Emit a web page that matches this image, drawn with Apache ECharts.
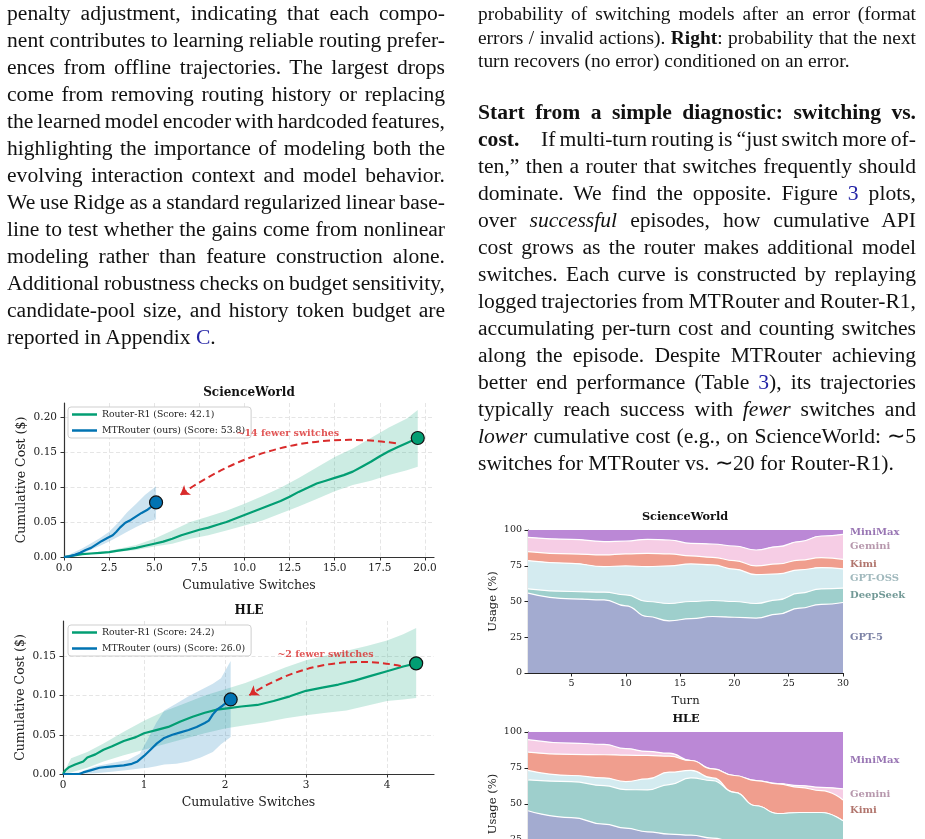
<!DOCTYPE html>
<html><head><meta charset="utf-8">
<script src="https://cdn.jsdelivr.net/npm/echarts@6/dist/echarts.min.js"></script>
<style>
html,body{margin:0;padding:0;background:#fff;width:925px;height:839px;overflow:hidden;}
#chart{position:absolute;left:0;top:0;width:925px;height:839px;z-index:1;}
.col{position:absolute;font-family:"Liberation Serif","Times New Roman",serif;color:#111;z-index:2;}
.col div{white-space:nowrap;text-align:left;}
.body{font-size:21.6px;line-height:27px;}
.cap{font-size:19.4px;line-height:23.5px;}
.lnk{color:#2424a6;}
</style></head>
<body>
<div id="chart"></div>

<div class="col body" style="left:7px;top:0px;width:438px">
<div class="j">penalty adjustment, indicating that each compo-</div>
<div class="j">nent contributes to learning reliable routing prefer-</div>
<div class="j">ences from offline trajectories. The largest drops</div>
<div class="j">come from removing routing history or replacing</div>
<div class="j">the learned model encoder with hardcoded features,</div>
<div class="j">highlighting the importance of modeling both the</div>
<div class="j">evolving interaction context and model behavior.</div>
<div class="j">We use Ridge as a standard regularized linear base-</div>
<div class="j">line to test whether the gains come from nonlinear</div>
<div class="j">modeling rather than feature construction alone.</div>
<div class="j">Additional robustness checks on budget sensitivity,</div>
<div class="j">candidate-pool size, and history token budget are</div>
<div class="l">reported in Appendix <span class="lnk">C</span>.</div>
</div>

<div class="col cap" style="left:478px;top:2.4px;width:438px">
<div class="j">probability of switching models after an error (format</div>
<div class="j">errors / invalid actions). <b>Right</b>: probability that the next</div>
<div class="l">turn recovers (no error) conditioned on an error.</div>
</div>

<div class="col body" style="left:478px;top:98.6px;width:438px">
<div class="j"><b>Start from a simple diagnostic: switching vs.</b></div>
<div class="j"><b>cost.</b>&emsp;If multi-turn routing is “just switch more of-</div>
<div class="j">ten,” then a router that switches frequently should</div>
<div class="j">dominate. We find the opposite. Figure <span class="lnk">3</span> plots,</div>
<div class="j">over <i>successful</i> episodes, how cumulative API</div>
<div class="j">cost grows as the router makes additional model</div>
<div class="j">switches. Each curve is constructed by replaying</div>
<div class="j">logged trajectories from MTRouter and Router-R1,</div>
<div class="j">accumulating per-turn cost and counting switches</div>
<div class="j">along the episode. Despite MTRouter achieving</div>
<div class="j">better end performance (Table <span class="lnk">3</span>), its trajectories</div>
<div class="j">typically reach success with <i>fewer</i> switches and</div>
<div class="j"><i>lower</i> cumulative cost (e.g., on ScienceWorld: ∼5</div>
<div class="l">switches for MTRouter vs. ∼20 for Router-R1).</div>
</div>

<script>
// ---------------- data ----------------
const swXTicks = [0, 2.5, 5, 7.5, 10, 12.5, 15, 17.5, 20];
const swYTicks = [0, 0.05, 0.10, 0.15, 0.20];
const hleXTicks = [0, 1, 2, 3, 4];
const hleYTicks = [0, 0.05, 0.10, 0.15];
const turnTicks = [5, 10, 15, 20, 25, 30];
const usageYTicks = [0, 25, 50, 75, 100];

const swR1Name = 'Router-R1 (Score: 42.1)';
const swMTName = 'MTRouter (ours) (Score: 53.8)';
const hleR1Name = 'Router-R1 (Score: 24.2)';
const hleMTName = 'MTRouter (ours) (Score: 26.0)';

// ScienceWorld cumulative cost
const swR1X = [0,0.5,1,1.5,2,2.5,3,3.5,4,4.5,5,5.5,6,6.5,7,7.5,8,8.5,9,9.5,10,10.5,11,11.5,12,12.5,13,13.5,14,14.5,15,15.5,16,16.5,17,17.5,18,18.5,19,19.6];
const swR1Y = [0,0.002,0.004,0.005,0.006,0.007,0.009,0.011,0.013,0.016,0.019,0.022,0.026,0.031,0.035,0.039,0.042,0.046,0.05,0.055,0.06,0.065,0.07,0.075,0.08,0.086,0.093,0.099,0.105,0.109,0.113,0.117,0.122,0.129,0.136,0.144,0.151,0.157,0.163,0.17];
const swR1BandX = [0,1,2.5,4,5,6,7,8,9,10,11,12,13,14,15,16,17,18,19,19.6];
const swR1Lo = [0,0.003,0.006,0.01,0.015,0.019,0.026,0.031,0.038,0.045,0.052,0.062,0.072,0.083,0.094,0.103,0.109,0.117,0.124,0.129];
const swR1Hi = [0,0.005,0.009,0.017,0.026,0.038,0.05,0.058,0.066,0.076,0.087,0.099,0.113,0.128,0.143,0.155,0.17,0.185,0.198,0.21];

const swMTX = [0,0.3,0.6,0.9,1.2,1.5,1.8,2.1,2.4,2.7,2.9,3.1,3.4,3.7,4.0,4.3,4.6,4.9,5.1];
const swMTY = [0,0.001,0.003,0.006,0.01,0.013,0.018,0.023,0.027,0.031,0.036,0.042,0.049,0.053,0.058,0.063,0.067,0.073,0.078];
const swMTBandX = [0,1,2,2.5,3,3.5,4,4.5,5.1];
const swMTLo = [0,0.005,0.016,0.022,0.029,0.036,0.043,0.049,0.054];
const swMTHi = [0,0.012,0.027,0.036,0.049,0.064,0.076,0.089,0.101];

// HLE cumulative cost
const hleR1X = [0,0.03,0.08,0.15,0.25,0.3,0.4,0.5,0.6,0.75,0.9,1.0,1.15,1.3,1.45,1.6,1.75,1.9,2.05,2.2,2.4,2.6,2.8,3.0,3.2,3.4,3.6,3.8,4.0,4.2,4.36];
const hleR1Y = [0,0.005,0.009,0.012,0.016,0.021,0.025,0.031,0.035,0.042,0.047,0.052,0.056,0.06,0.067,0.073,0.078,0.082,0.084,0.086,0.088,0.093,0.099,0.106,0.11,0.114,0.119,0.125,0.131,0.137,0.141];
const hleR1BandX = [0,0.1,0.3,0.5,0.75,1.0,1.25,1.5,1.75,2.0,2.25,2.5,2.75,3.0,3.25,3.5,3.75,4.0,4.2,4.36];
const hleR1Lo = [0,0.002,0.008,0.016,0.024,0.031,0.038,0.045,0.052,0.058,0.062,0.066,0.071,0.075,0.078,0.081,0.087,0.093,0.095,0.097];
const hleR1Hi = [0,0.02,0.028,0.039,0.054,0.068,0.08,0.09,0.1,0.108,0.116,0.126,0.136,0.145,0.151,0.157,0.163,0.17,0.178,0.186];

const hleMTX = [0,0.2,0.25,0.35,0.45,0.55,0.65,0.75,0.85,0.92,1.0,1.08,1.16,1.25,1.35,1.45,1.55,1.65,1.75,1.8,1.85,1.9,1.97,2.07];
const hleMTY = [0,0,0.002,0.005,0.008,0.009,0.01,0.011,0.013,0.016,0.023,0.031,0.039,0.046,0.05,0.053,0.056,0.06,0.065,0.068,0.076,0.082,0.087,0.095];
const hleMTBandX = [0,0.2,0.4,0.6,0.8,0.95,1.05,1.15,1.25,1.4,1.55,1.7,1.85,1.95,2.07];
const hleMTLo = [0,0,0.001,0.003,0.005,0.007,0.008,0.01,0.012,0.013,0.016,0.021,0.028,0.038,0.047];
const hleMTHi = [0,0.002,0.01,0.014,0.018,0.026,0.045,0.065,0.081,0.09,0.099,0.107,0.115,0.122,0.144];

// annotations (data coordinates)
const swArrow = [[18.39, 0.1624], [6.44, 0.0886]];
const hleArrow = [[4.17, 0.1377], [2.30, 0.1004]];
const swNotePos = [12.4, 0.177];
const hleNotePos = [3.24, 0.1525];
const swNoteText = '~14 fewer switches';
const hleNoteText = '~2 fewer switches';

// model usage per turn (%), stacked bottom -> top
const models = ['GPT-5', 'DeepSeek', 'GPT-OSS', 'Kimi', 'Gemini', 'MiniMax'];
const turns = [1, 5, 8, 10, 12, 14, 16, 18, 20, 22, 24, 26, 28, 30];
const swGPT5     = [55.8, 51.9, 51.2, 47.0, 39.5, 36.5, 38.0, 39.5, 39.0, 38.4, 41.2, 45.3, 48.0, 49.3];
const swDeepSeek = [3.0, 5.1, 5.3, 7.7, 10.5, 12.1, 12.0, 11.2, 11.0, 10.2, 10.0, 10.5, 10.8, 10.0];
const swGPTOSS   = [19.8, 19.7, 17.9, 20.2, 24.4, 26.3, 26.3, 24.9, 22.6, 20.2, 18.1, 16.3, 14.9, 13.5];
const swKimi     = [6.3, 6.6, 8.2, 8.4, 9.3, 8.4, 5.6, 5.3, 6.0, 6.1, 7.0, 6.9, 7.0, 6.7];
const swGemini   = [10.0, 10.2, 9.3, 9.0, 9.8, 9.7, 8.8, 9.3, 10.2, 11.1, 12.1, 12.9, 15.1, 17.5];
const swMiniMax  = [5.1, 6.5, 8.1, 7.7, 6.5, 7.0, 9.3, 9.8, 11.2, 14.0, 11.6, 8.1, 4.2, 3.0];

const hleGPT5     = [45.3, 40.6, 36.0, 33.2, 30.7, 29.1, 28.4, 26.3, 23.5, 20.0, 16.0, 12.0, 9.0, 6.5];
const hleDeepSeek = [21.5, 25.0, 26.8, 26.8, 29.1, 34.4, 39.7, 40.0, 34.6, 28.8, 27.4, 32.1, 35.1, 31.8];
const hleGPTOSS   = [6.5, 4.2, 5.3, 5.6, 7.6, 8.6, 5.2, 1.8, 0, 0, 0, 0, 0, 0];
const hleKimi     = [12.7, 14.6, 16.1, 18.3, 16.3, 11.1, 6.9, 6.3, 11.7, 17.5, 20.6, 17.5, 15.2, 14.5];
const hleGemini   = [8.7, 7.9, 7.2, 4.5, 2.8, 2.1, 0, 0, 0, 0, 0.2, 1.2, 2.3, 7.7];
const hleMiniMax  = [5.3, 7.7, 8.6, 11.6, 13.5, 14.7, 19.8, 25.6, 30.2, 33.7, 35.8, 37.2, 38.4, 39.5];

// ---------------- style ----------------
const FF = '"DejaVu Serif", serif';
const GREEN = '#029e73', BLUE = '#0173b2', RED = '#d92b2b';
const modelColors = ['#a3abd0', '#9ecfcc', '#d4ebf0', '#f09e8e', '#f6cde5', '#bb88d6'];
const modelLabelColors = ['#5c6490', '#4f807c', '#8aa7ad', '#9e5248', '#a57e98', '#7e52a0'];

const zip = (xs, ys) => xs.map((x, i) => [x, ys[i]]);

function costXAxis(gi, max, ticks, fmt) {
  return {
    type: 'value', gridIndex: gi, min: 0, max: max,
    axisLine: { show: true, onZero: false, lineStyle: { color: '#333', width: 1.2 } },
    axisTick: { show: true, length: 3.5, customValues: ticks, lineStyle: { color: '#333', width: 1 } },
    axisLabel: { customValues: ticks, formatter: fmt, fontFamily: FF, fontSize: 10.5, color: '#222', margin: 6 },
    splitLine: { show: true, lineStyle: { color: '#dedede', type: [4, 2.5], width: 0.8 } },
    name: 'Cumulative Switches', nameLocation: 'middle', nameGap: 22,
    nameTextStyle: { fontFamily: FF, fontSize: 12.5, color: '#222' }
  };
}
function costYAxis(gi, max, ticks) {
  return {
    type: 'value', gridIndex: gi, min: 0, max: max,
    axisLine: { show: true, onZero: false, lineStyle: { color: '#333', width: 1.2 } },
    axisTick: { show: true, length: 3.5, customValues: ticks, lineStyle: { color: '#333', width: 1 } },
    axisLabel: { customValues: ticks, formatter: v => v.toFixed(2), fontFamily: FF, fontSize: 10.5, color: '#222', margin: 7 },
    splitLine: { show: true, lineStyle: { color: '#dedede', type: [4, 2.5], width: 0.8 } },
    name: 'Cumulative Cost ($)', nameLocation: 'middle', nameGap: 36, nameRotate: 90,
    nameTextStyle: { fontFamily: FF, fontSize: 12.5, color: '#222' }
  };
}
function usageXAxis(gi) {
  return {
    type: 'value', gridIndex: gi, min: 1, max: 30,
    axisLine: { show: true, onZero: false, lineStyle: { color: '#222', width: 1.2 } },
    axisTick: { show: true, length: 3.5, customValues: turnTicks, lineStyle: { color: '#222' } },
    axisLabel: { customValues: turnTicks, fontFamily: FF, fontSize: 9.5, color: '#222', margin: 6 },
    splitLine: { show: false },
    name: 'Turn', nameLocation: 'middle', nameGap: 22,
    nameTextStyle: { fontFamily: FF, fontSize: 11.6, color: '#222' }
  };
}
function usageYAxis(gi) {
  return {
    type: 'value', gridIndex: gi, min: 0, max: 100,
    axisLine: { show: true, onZero: false, lineStyle: { color: '#222', width: 1.2 } },
    axisTick: { show: true, length: 3.5, customValues: usageYTicks, lineStyle: { color: '#222' } },
    axisLabel: { customValues: usageYTicks, fontFamily: FF, fontSize: 9.5, color: '#222', margin: 6 },
    splitLine: { show: false },
    name: 'Usage (%)', nameLocation: 'middle', nameGap: 29, nameRotate: 90,
    nameTextStyle: { fontFamily: FF, fontSize: 11.6, color: '#222' }
  };
}

// stacking on value axes: put y in column 0 so the library stacks y (by index), x in column 1
function bandSeries(ai, id, bx, lo, hi, color) {
  return [
    { type: 'line', id: id + 'lo', xAxisIndex: ai, yAxisIndex: ai, stack: id,
      data: bx.map((x, i) => [lo[i], x]), encode: { x: 1, y: 0 },
      symbol: 'none', lineStyle: { opacity: 0 }, silent: true, z: 1 },
    { type: 'line', id: id + 'hi', xAxisIndex: ai, yAxisIndex: ai, stack: id,
      data: bx.map((x, i) => [hi[i] - lo[i], x]), encode: { x: 1, y: 0 },
      symbol: 'none', lineStyle: { opacity: 0 }, areaStyle: { color: color, opacity: 1 }, silent: true, z: 1 }
  ];
}
function lineSeries(ai, name, xs, ys, color) {
  return { type: 'line', name: name, xAxisIndex: ai, yAxisIndex: ai, data: zip(xs, ys),
    symbol: 'none', showSymbol: false, lineStyle: { color: color, width: 2.2 }, itemStyle: { color: color }, z: 3 };
}
function endSeries(ai, xs, ys, color) {
  return { type: 'scatter', xAxisIndex: ai, yAxisIndex: ai, data: [[xs[xs.length - 1], ys[ys.length - 1]]],
    symbolSize: 13, itemStyle: { color: color, borderColor: '#111', borderWidth: 1.2, opacity: 1 }, z: 6 };
}
function arrowSeries(ai, coords) {
  return { type: 'lines', coordinateSystem: 'cartesian2d', xAxisIndex: ai, yAxisIndex: ai,
    data: [{ coords: coords }], symbol: ['none', 'arrow'], symbolSize: 9,
    lineStyle: { color: RED, width: 2, type: [7, 4], curveness: -0.2, opacity: 1 }, z: 5 };
}
function noteSeries(ai, pos, text) {
  return { type: 'scatter', xAxisIndex: ai, yAxisIndex: ai, data: [pos], symbolSize: 0,
    label: { show: true, position: 'inside', formatter: text, color: RED, fontFamily: FF,
      fontWeight: 'bold', fontSize: 9.5 }, z: 5 };
}
function usageSeries(ai, key, layers) {
  const out = [];
  layers.forEach((vals, i) => {
    out.push({ type: 'line', xAxisIndex: ai, yAxisIndex: ai, stack: key,
      data: turns.map((t, k) => [vals[k], t]), encode: { x: 1, y: 0 },
      smooth: 0.5, smoothMonotone: 'x', symbol: 'none',
      lineStyle: { color: '#fff', width: i === layers.length - 1 ? 0 : 1.2 },
      areaStyle: { color: modelColors[i], opacity: 1 }, z: 10 - i, silent: true });
  });
  // layer labels at the right edge, at the middle of each layer on the last turn
  let base = 0;
  const last = turns.length - 1;
  layers.forEach((vals, i) => {
    const v = vals[last];
    if (v >= 1) {
      out.push({ type: 'scatter', xAxisIndex: ai, yAxisIndex: ai, data: [[turns[last], base + v / 2]],
        symbolSize: 0, z: 12,
        label: { show: true, position: 'right', distance: 7, formatter: models[i], color: modelLabelColors[i],
          fontFamily: FF, fontWeight: 'bold', fontSize: 10 } });
    }
    base += v;
  });
  return out;
}

const titleStyle = (size) => ({ fontFamily: FF, fontWeight: 'bold', fontSize: size, color: '#111' });
const legendCfg = (names, top) => ({
  data: names, orient: 'vertical', left: 68, top: top, icon: 'rect', itemWidth: 25, itemHeight: 2.5,
  itemGap: 3, padding: [1, 6, 1, 4], backgroundColor: '#fff', borderColor: '#cfcfcf', borderWidth: 1,
  borderRadius: 3, textStyle: { fontFamily: FF, fontSize: 9.3, color: '#222', lineHeight: 13 },
  selectedMode: false
});

const option = {
  animation: false,
  backgroundColor: 'transparent',
  title: [
    { text: 'ScienceWorld', left: 249, top: 387, textAlign: 'center', padding: 0, textStyle: titleStyle(12) },
    { text: 'HLE', left: 249, top: 605, textAlign: 'center', padding: 0, textStyle: titleStyle(12) },
    { text: 'ScienceWorld', left: 685, top: 512, textAlign: 'center', padding: 0, textStyle: titleStyle(11.3) },
    { text: 'HLE', left: 686, top: 714, textAlign: 'center', padding: 0, textStyle: titleStyle(11.3) }
  ],
  legend: [legendCfg([swR1Name, swMTName], 407), legendCfg([hleR1Name, hleMTName], 625)],
  grid: [
    { left: 64, top: 403, width: 370, height: 154, outerBoundsMode: 'none' },
    { left: 63, top: 621, width: 371, height: 153, outerBoundsMode: 'none' },
    { left: 528, top: 530, width: 315, height: 143, outerBoundsMode: 'none' },
    { left: 528, top: 732, width: 315, height: 144, outerBoundsMode: 'none' }
  ],
  xAxis: [
    costXAxis(0, 20.5, swXTicks, v => v.toFixed(1)),
    costXAxis(1, 4.58, hleXTicks, v => String(v)),
    usageXAxis(2), usageXAxis(3)
  ],
  yAxis: [
    costYAxis(0, 0.22, swYTicks),
    costYAxis(1, 0.195, hleYTicks),
    usageYAxis(2), usageYAxis(3)
  ],
  series: [].concat(
    bandSeries(0, 'swR1', swR1BandX, swR1Lo, swR1Hi, 'rgba(2,158,115,0.2)'),
    bandSeries(0, 'swMT', swMTBandX, swMTLo, swMTHi, 'rgba(1,115,178,0.2)'),
    [lineSeries(0, swR1Name, swR1X, swR1Y, GREEN), lineSeries(0, swMTName, swMTX, swMTY, BLUE),
     arrowSeries(0, swArrow), noteSeries(0, swNotePos, swNoteText),
     endSeries(0, swR1X, swR1Y, GREEN), endSeries(0, swMTX, swMTY, BLUE)],
    bandSeries(1, 'hleR1', hleR1BandX, hleR1Lo, hleR1Hi, 'rgba(2,158,115,0.2)'),
    [lineSeries(1, hleR1Name, hleR1X, hleR1Y, GREEN)],
    bandSeries(1, 'hleMT', hleMTBandX, hleMTLo, hleMTHi, 'rgba(1,115,178,0.2)'),
    [lineSeries(1, hleMTName, hleMTX, hleMTY, BLUE),
     arrowSeries(1, hleArrow), noteSeries(1, hleNotePos, hleNoteText),
     endSeries(1, hleR1X, hleR1Y, GREEN), endSeries(1, hleMTX, hleMTY, BLUE)],
    usageSeries(2, 'swU', [swGPT5, swDeepSeek, swGPTOSS, swKimi, swGemini, swMiniMax]),
    usageSeries(3, 'hleU', [hleGPT5, hleDeepSeek, hleGPTOSS, hleKimi, hleGemini, hleMiniMax])
  )
};

const chart = echarts.init(document.getElementById('chart'), null, { renderer: 'canvas' });
chart.setOption(option);

// justify each typeset line to the column width (like the LaTeX page)
document.querySelectorAll('.col .j').forEach(div => {
  const colW = div.parentElement.getBoundingClientRect().width;
  const span = document.createElement('span');
  while (div.firstChild) span.appendChild(div.firstChild);
  div.appendChild(span);
  const w = span.getBoundingClientRect().width;
  const n = (span.textContent.match(/ /g) || []).length;
  if (n > 0) span.style.wordSpacing = ((colW - w) / n) + 'px';
});
</script>
</body></html>
